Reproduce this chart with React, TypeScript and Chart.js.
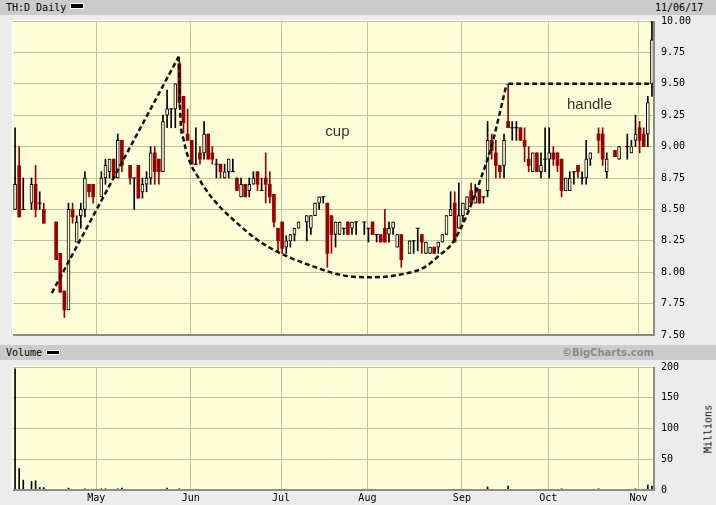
import React, { useEffect, useRef } from "react";
import { Chart, registerables } from "chart.js";

Chart.register(...registerables);

// x positions are weekday slots counted from Mon 3 Apr 2017 (slot 0) to Mon 6 Nov 2017 (slot 155)
const SLOTS = [
  0, 1, 2, 4, 5, 6, 7, 10, 11, 12, 13, 14, 15, 16, 17, 18, 19,
  21, 22, 23, 24, 25, 26, 28, 29, 30, 31, 32, 33, 34, 35, 36, 37, 38, 39, 40, 41, 42,
  43, 44, 45, 46, 47, 48, 49, 50, 51, 52, 53, 54, 55, 56, 57, 58, 59, 60, 61, 62, 63, 64,
  65, 66, 67, 68, 69, 71, 72, 73, 74, 75, 76, 77, 78, 79, 80, 81, 82, 83, 85,
  86, 87, 88, 89, 90, 91, 92, 93, 94, 96, 97, 98, 99, 100, 101, 102, 103, 104, 105, 106, 107, 108,
  109, 110, 111, 112, 113, 114, 115, 116, 117, 118, 119, 120, 121, 122, 123, 124, 125, 126, 127, 128, 129,
  130, 131, 132, 133, 134, 135, 136, 137, 138, 139, 140, 142, 143, 144, 146, 147, 149, 150, 151,
  152, 153, 154, 155,
];
const OPEN = [
  8.5, 8.85, 8.5, 8.55, 8.7, 8.55, 8.5, 8.4, 8.15, 7.85, 7.7, 8.5, 8.24, 8.45, 8.5, 8.7, 8.7,
  8.6, 8.75, 8.8, 8.9, 8.75, 9.05, 8.85, 8.75, 8.85, 8.64, 8.7, 8.75, 8.95, 8.9, 8.8, 9.25, 9.3, 9.3, 9.66, 9.4, 9.1,
  9.05, 8.86, 8.95, 8.95, 9.1, 8.95, 8.86, 8.86, 8.75, 8.8, 8.8, 8.75, 8.6, 8.7, 8.65, 8.7, 8.8, 8.65, 8.75, 8.7, 8.62, 8.35,
  8.4, 8.2, 8.25, 8.3, 8.35, 8.4, 8.35, 8.45, 8.55, 8.6, 8.55, 8.45, 8.3, 8.3, 8.35, 8.4, 8.35, 8.4, 8.4,
  8.35, 8.4, 8.3, 8.3, 8.35, 8.3, 8.35, 8.2, 8.3, 8.15, 8.25, 8.35, 8.3, 8.15, 8.15, 8.2, 8.2, 8.24, 8.3, 8.45, 8.55, 8.35,
  8.45, 8.5, 8.65, 8.55, 8.66, 8.6, 8.65, 9.05, 8.95, 8.85, 8.85, 9.2, 9.15, 9.15, 9.15, 9.05, 8.9, 8.8, 8.95, 8.8, 8.9,
  8.9, 8.95, 8.95, 8.9, 8.65, 8.65, 8.8, 8.85, 8.75, 8.75, 8.9, 9.1, 9.1, 8.8, 8.97, 8.9, 9.0, 8.95, 9.05,
  9.15, 9.1, 9.1, 9.5,
];
const HIGH = [
  9.15, 9.0, 8.75, 8.75, 8.85, 8.64, 8.55, 8.4, 8.15, 7.85, 8.55, 8.55, 8.45, 8.55, 8.8, 8.7, 8.7,
  8.8, 8.9, 8.9, 8.9, 9.1, 9.05, 8.85, 8.75, 8.85, 8.75, 8.8, 9.0, 9.0, 8.9, 9.25, 9.45, 9.3, 9.5, 9.68, 9.4, 9.3,
  9.05, 9.15, 9.0, 9.2, 9.1, 9.0, 8.9, 8.86, 8.86, 8.9, 8.9, 8.75, 8.75, 8.7, 8.75, 8.8, 8.8, 8.75, 8.95, 8.8, 8.62, 8.35,
  8.4, 8.29, 8.3, 8.35, 8.4, 8.45, 8.45, 8.55, 8.6, 8.6, 8.55, 8.45, 8.4, 8.4, 8.35, 8.4, 8.4, 8.4, 8.4,
  8.35, 8.4, 8.3, 8.3, 8.5, 8.4, 8.4, 8.3, 8.3, 8.25, 8.25, 8.35, 8.3, 8.24, 8.2, 8.2, 8.24, 8.3, 8.45, 8.64, 8.64, 8.71,
  8.55, 8.6, 8.71, 8.7, 8.66, 8.6, 9.2, 9.1, 9.05, 8.85, 9.1, 9.5, 9.2, 9.2, 9.15, 9.15, 9.0, 8.95, 8.95, 8.95, 9.15,
  9.15, 9.0, 8.95, 8.9, 8.75, 8.8, 8.8, 8.85, 8.8, 9.05, 8.95, 9.15, 9.15, 8.95, 8.97, 9.0, 9.1, 9.05, 9.25,
  9.2, 9.15, 9.4, 10.0,
];
const LOW = [
  8.5, 8.44, 8.5, 8.5, 8.44, 8.5, 8.39, 8.1, 7.84, 7.64, 7.7, 8.39, 8.24, 8.35, 8.44, 8.6, 8.55,
  8.6, 8.7, 8.75, 8.75, 8.75, 8.8, 8.7, 8.5, 8.59, 8.59, 8.64, 8.7, 8.7, 8.7, 8.8, 9.15, 9.15, 9.15, 9.32, 9.11, 9.05,
  8.86, 8.86, 8.86, 8.9, 8.9, 8.86, 8.75, 8.75, 8.75, 8.75, 8.8, 8.65, 8.6, 8.6, 8.6, 8.7, 8.65, 8.65, 8.55, 8.55, 8.36, 8.17,
  8.15, 8.15, 8.2, 8.25, 8.35, 8.25, 8.3, 8.45, 8.5, 8.55, 8.04, 8.15, 8.2, 8.3, 8.3, 8.3, 8.3, 8.3, 8.3,
  8.24, 8.3, 8.24, 8.24, 8.24, 8.24, 8.3, 8.2, 8.04, 8.15, 8.15, 8.17, 8.15, 8.15, 8.15, 8.15, 8.15, 8.24, 8.3, 8.45, 8.24, 8.35,
  8.4, 8.5, 8.55, 8.55, 8.55, 8.55, 8.6, 8.9, 8.75, 8.75, 8.75, 9.15, 9.05, 9.05, 9.05, 8.88, 8.8, 8.8, 8.8, 8.75, 8.8,
  8.75, 8.85, 8.8, 8.6, 8.65, 8.65, 8.7, 8.75, 8.7, 8.7, 8.85, 8.95, 8.85, 8.75, 8.92, 8.9, 8.9, 8.95, 9.0,
  8.95, 9.0, 9.0, 9.4,
];
const CLOSE = [
  8.7, 8.44, 8.5, 8.7, 8.5, 8.55, 8.39, 8.1, 7.84, 7.7, 8.5, 8.44, 8.4, 8.5, 8.75, 8.64, 8.6,
  8.75, 8.85, 8.9, 8.75, 9.05, 8.85, 8.75, 8.75, 8.59, 8.7, 8.75, 8.95, 8.8, 8.8, 9.2, 9.3, 9.3, 9.5, 9.35, 9.19, 9.05,
  8.86, 8.86, 8.9, 9.1, 8.9, 8.9, 8.86, 8.8, 8.8, 8.9, 8.8, 8.65, 8.7, 8.6, 8.7, 8.75, 8.7, 8.65, 8.7, 8.6, 8.4, 8.25,
  8.19, 8.25, 8.3, 8.35, 8.4, 8.45, 8.45, 8.55, 8.6, 8.6, 8.15, 8.3, 8.4, 8.4, 8.35, 8.3, 8.4, 8.4, 8.4,
  8.35, 8.3, 8.3, 8.24, 8.24, 8.35, 8.4, 8.3, 8.1, 8.25, 8.25, 8.35, 8.24, 8.24, 8.2, 8.15, 8.24, 8.3, 8.45, 8.5, 8.24, 8.45,
  8.55, 8.6, 8.55, 8.6, 8.55, 8.6, 9.05, 8.97, 8.85, 8.8, 9.05, 9.15, 9.15, 9.15, 9.05, 9.0, 8.85, 8.95, 8.8, 8.85, 8.9,
  8.95, 8.9, 8.85, 8.65, 8.75, 8.75, 8.8, 8.8, 8.75, 8.9, 8.95, 9.05, 8.9, 8.9, 8.92, 9.0, 9.0, 9.0, 9.1,
  9.05, 9.0, 9.35, 9.85,
];

// volume, millions of shares
const VOL_SLOTS = [0, 1, 2, 4, 5, 6, 7, 13, 17, 21, 22, 25, 26, 37, 40, 115, 120, 133, 142, 151, 154, 155];
const VOL_MILLIONS = [197, 35, 16, 14, 15, 4, 4, 3, 2, 2, 2, 2, 3, 3, 2, 5, 6.5, 2, 2, 2, 8, 6.5];

// month starts (first weekday of each month, as slot)
const MONTH_SLOTS = [20, 43, 65, 86, 109, 130, 152];
const MONTH_LABELS = ["May", "Jun", "Jul", "Aug", "Sep", "Oct", "Nov"];

// hand-drawn pattern annotations (slot, price)
const RISE_SLOTS = [8.94, 39.82];
const RISE_PRICES = [7.834, 9.716];
const CUP_SLOTS = [39.82, 40.23, 41.04, 42.67, 44.38, 46.33, 49.99, 52.91, 59.01, 64.62, 72.74, 79.26, 86.57, 93.16, 99.5, 103.65, 106.09, 108.52, 110.96, 113.4, 115.84, 119.62];
const CUP_PRICES = [9.716, 9.238, 9.053, 8.867, 8.766, 8.662, 8.515, 8.424, 8.256, 8.15, 8.044, 7.978, 7.959, 7.978, 8.037, 8.145, 8.217, 8.352, 8.535, 8.75, 8.989, 9.496];
const HANDLE_SLOTS = [120.0, 155.5];
const HANDLE_PRICES = [9.5, 9.5];
const NOTE_TEXTS = ["cup", "handle"];
const NOTE_SLOTS = [78.45, 139.8];
const NOTE_PRICES = [9.088, 9.297];

const PAGE_BG = "#ececec";
const BAND_BG = "#cbcbcb";
const PLOT_BG = "#fefed8";
const GRID = "#c4c48e";
const RED = "#990000";
const MONO = "'DejaVu Sans Mono', monospace";

const framePlugin = {
  id: "frame",
  beforeDraw(chart: any) {
    const { ctx, chartArea: a } = chart;
    ctx.save();
    ctx.fillStyle = PLOT_BG;
    ctx.fillRect(a.left, a.top, a.right - a.left, a.bottom - a.top);
    ctx.restore();
  },
  afterDraw(chart: any) {
    const { ctx, chartArea: a } = chart;
    ctx.save();
    ctx.fillStyle = "#ffffff";
    ctx.fillRect(a.left - 1, a.top - 1, a.right - a.left + 1, 1);
    ctx.fillRect(a.left - 1, a.top - 1, 1, a.bottom - a.top + 1);
    ctx.fillStyle = "#8c8c8c";
    ctx.fillRect(a.left, a.bottom - 1, a.right - a.left + 1, 2);
    ctx.fillRect(a.right - 1, a.top, 2, a.bottom - a.top + 1);
    ctx.restore();
  },
};

const notesPlugin = {
  id: "notes",
  afterDatasetsDraw(chart: any) {
    const { ctx, scales } = chart;
    ctx.save();
    ctx.fillStyle = "#333333";
    ctx.font = "15px 'Liberation Sans', Arial, sans-serif";
    ctx.textAlign = "center";
    ctx.textBaseline = "alphabetic";
    NOTE_TEXTS.forEach((t, i) => {
      ctx.fillText(t, scales.x.getPixelForValue(NOTE_SLOTS[i]), scales.y.getPixelForValue(NOTE_PRICES[i]));
    });
    ctx.restore();
  },
};

const monthTicks = (scale: any) => {
  scale.ticks = MONTH_SLOTS.map((s) => ({ value: s - 0.25 }));
};

export default function App() {
  const priceRef = useRef<HTMLCanvasElement>(null);
  const volRef = useRef<HTMLCanvasElement>(null);

  useEffect(() => {
    const upBodies: any[] = [];
    const downBodies: any[] = [];
    const upWicks: any[] = [];
    const downWicks: any[] = [];
    const dojis: any[] = [];
    SLOTS.forEach((s, i) => {
      const o = OPEN[i], h = HIGH[i], l = LOW[i], c = CLOSE[i];
      if (c > o) {
        upBodies.push({ x: s, y: [o, c] });
        upWicks.push({ x: s, y: [l, h] });
      } else if (c < o) {
        downBodies.push({ x: s, y: [c, o] });
        downWicks.push({ x: s, y: [l, h] });
      } else {
        dojis.push({ x: s, y: o });
        upWicks.push({ x: s, y: [l, h] });
      }
    });
    const pts = (xs: number[], ys: number[]) => xs.map((x, i) => ({ x, y: ys[i] }));
    const dashed = {
      type: "line",
      borderColor: "#111111",
      borderWidth: 2.5,
      borderDash: [5, 3],
      pointRadius: 0,
      pointHitRadius: 0,
      fill: false,
      order: 0,
    };

    const xBase = {
      type: "linear",
      min: -0.5,
      max: 155.5,
      offset: false,
      afterBuildTicks: monthTicks,
      grid: { color: GRID, lineWidth: 1, offset: false, drawTicks: false },
      border: { display: false },
    };

    const price = new Chart(priceRef.current as HTMLCanvasElement, {
      type: "bar",
      data: {
        datasets: [
          { ...dashed, data: pts(RISE_SLOTS, RISE_PRICES), tension: 0 },
          { ...dashed, data: pts(CUP_SLOTS, CUP_PRICES), cubicInterpolationMode: "monotone" },
          { ...dashed, data: pts(HANDLE_SLOTS, HANDLE_PRICES), tension: 0 },
          {
            type: "line",
            data: dojis,
            showLine: false,
            pointStyle: "line",
            pointRadius: 2,
            pointBorderColor: "#000000",
            pointBorderWidth: 1,
            borderColor: "#000000",
            order: 1,
          },
          {
            type: "bar",
            data: upBodies,
            barThickness: 3,
            grouped: false,
            backgroundColor: PLOT_BG,
            borderColor: "#000000",
            borderWidth: 1,
            borderSkipped: false,
            order: 2,
          },
          {
            type: "bar",
            data: downBodies,
            barThickness: 3,
            grouped: false,
            backgroundColor: RED,
            borderWidth: 0,
            order: 2,
          },
          { type: "bar", data: upWicks, barThickness: 1, grouped: false, backgroundColor: "#000000", order: 3 },
          { type: "bar", data: downWicks, barThickness: 1, grouped: false, backgroundColor: RED, order: 3 },
        ] as any,
      },
      options: {
        responsive: false,
        animation: false,
        devicePixelRatio: 1,
        events: [],
        layout: { padding: { left: 13, top: 21, right: 0, bottom: 170 } },
        plugins: { legend: { display: false }, tooltip: { enabled: false } },
        scales: {
          x: {
            ...xBase,
            ticks: { display: false },
            afterFit: (s: any) => { s.height = 0; },
          },
          y: {
            type: "linear",
            position: "right",
            min: 7.5,
            max: 10,
            beginAtZero: false,
            ticks: {
              stepSize: 0.25,
              padding: 7,
              color: "#000000",
              font: { family: MONO, size: 10 },
              callback: (v: any) => Number(v).toFixed(2),
            },
            grid: { color: GRID, lineWidth: 1, drawTicks: false },
            border: { display: false },
            afterFit: (s: any) => { s.width = 62; },
          },
        } as any,
      },
      plugins: [framePlugin, notesPlugin],
    });

    const volume = new Chart(volRef.current as HTMLCanvasElement, {
      type: "bar",
      data: {
        datasets: [
          {
            data: pts(VOL_SLOTS, VOL_MILLIONS),
            barThickness: 1,
            grouped: false,
            backgroundColor: "#000000",
          },
        ] as any,
      },
      options: {
        responsive: false,
        animation: false,
        devicePixelRatio: 1,
        events: [],
        layout: { padding: { left: 13, top: 367, right: 0, bottom: 0 } },
        plugins: { legend: { display: false }, tooltip: { enabled: false } },
        scales: {
          x: {
            ...xBase,
            ticks: {
              padding: 2,
              autoSkip: false,
              maxRotation: 0,
              color: "#000000",
              font: { family: MONO, size: 10 },
              callback: (_v: any, i: number) => MONTH_LABELS[i],
            },
            afterFit: (s: any) => { s.height = 15; },
          },
          y: {
            type: "linear",
            position: "right",
            min: 0,
            max: 200,
            ticks: {
              stepSize: 50,
              padding: 7,
              color: "#000000",
              font: { family: MONO, size: 10 },
            },
            grid: { color: GRID, lineWidth: 1, drawTicks: false },
            border: { display: false },
            afterFit: (s: any) => { s.width = 62; },
          },
        } as any,
      },
      plugins: [framePlugin],
    });

    return () => {
      price.destroy();
      volume.destroy();
    };
  }, []);

  const monoText: React.CSSProperties = {
    position: "absolute",
    fontFamily: MONO,
    fontSize: 10,
    lineHeight: "15px",
    color: "#000",
    whiteSpace: "nowrap",
  };

  return (
    <div style={{ position: "absolute", left: 0, top: 0, width: 716, height: 505, background: PAGE_BG, overflow: "hidden" }}>
      <div style={{ position: "absolute", left: 0, top: 0, width: 716, height: 15, background: BAND_BG }}>
        <span style={{ ...monoText, left: 6, top: 0 }}>TH:D Daily</span>
        <span style={{ position: "absolute", left: 70, top: 3, width: 12, height: 4, background: "#000", border: "1px solid #fff" }} />
        <span style={{ ...monoText, left: 655, top: 0 }}>11/06/17</span>
      </div>
      <div style={{ position: "absolute", left: 0, top: 345, width: 716, height: 15, background: BAND_BG }}>
        <span style={{ ...monoText, left: 6, top: 0 }}>Volume</span>
        <span style={{ position: "absolute", left: 46, top: 5, width: 12, height: 3, background: "#000", border: "1px solid #fff" }} />
        <span
          style={{
            position: "absolute",
            right: 62,
            top: 0,
            fontFamily: "'DejaVu Sans', sans-serif",
            fontWeight: "bold",
            fontSize: 10,
            lineHeight: "15px",
            color: "#8a8a8a",
            whiteSpace: "nowrap",
          }}
        >
          ©BigCharts.com
        </span>
      </div>
      <canvas ref={priceRef} width={716} height={505} style={{ position: "absolute", left: 0, top: 0 }} />
      <canvas ref={volRef} width={716} height={505} style={{ position: "absolute", left: 0, top: 0 }} />
      <div
        style={{
          ...monoText,
          left: 707.5,
          top: 429,
          transform: "translate(-50%, -50%) rotate(-90deg)",
        }}
      >
        Millions
      </div>
    </div>
  );
}
